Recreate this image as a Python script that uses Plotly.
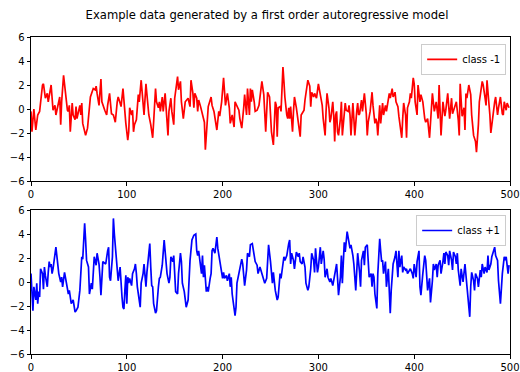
import plotly.graph_objects as go
from plotly.subplots import make_subplots

# ---- class -1 (top panel) ----
t_top = [0,1,3,5,7,9,12,13,15,17,18,21,23,25,26,29,30,31,32,34,36,38,39,40,41,43,44,46,47,48,51,52,53,54,57,59,62,65,67,68,69,71,73,74,77,79,
         80,82,84,86,87,88,90,91,93,94,96,98,99,101,102,103,105,106,107,108,110,112,113,115,117,118,120,122,123,125,127,128,130,131,133,134,135,137,138,140,141,142,143,144,146,147,149,150,151,153,154,156,157,159,161,
         164,166,167,169,170,171,173,174,175,177,179,181,182,184,185,188,189,191,193,194,196,197,199,201,203,205,207,208,210,212,213,215,217,218,220,222,223,225,226,228,229,230,231,233,234,236,238,241,243,245,
         247,249,250,251,253,254,255,256,257,258,260,261,262,263,264,265,267,268,269,270,271,273,274,275,277,278,279,281,282,284,285,286,289,291,292,293,295,296,298,300,302,303,304,305,307,308,309,311,312,313,315,316,317,318,319,320,321,323,324,325,327,328,329,
         331,332,333,334,336,337,338,340,341,342,343,345,346,348,349,350,351,352,354,356,357,359,360,361,362,363,364,365,367,368,370,371,373,374,375,377,378,380,381,383,384,385,387,388,389,391,392,393,395,396,397,399,400,401,403,404,406,407,409,411,412,
         414,416,419,421,423,425,426,428,430,432,433,435,437,439,440,442,444,446,447,448,450,452,453,454,455,457,459,460,462,464,465,467,468,471,472,474,475,476,478,479,480,482,484,485,487,488,490,492,493,494,496,497,499]
v_top = [-0.2,-1.9,0.0,-1.75,-0.5,-0.2,2.0,2.1,0.9,1.3,0.6,2.0,-0.1,0.3,-0.5,0.6,1.0,-1.3,0.6,2.8,1.0,-0.1,-0.2,0.3,-1.9,0.5,-0.5,-0.9,0.2,-0.8,0.3,-0.5,0.5,-1.2,-2.2,-1.6,1.0,1.7,1.6,1.9,1.3,0.3,2.5,0.6,-0.1,-0.5,
         0.3,1.3,-0.4,-0.5,-0.8,-1.1,0.6,1.0,0.5,0.2,1.7,-0.8,-1.2,-2.6,-1.9,0.1,-0.5,-0.1,-1.9,-1.3,-0.9,1.2,0.6,2.4,0.6,-0.5,2.1,0.6,-0.5,-1.3,-2.4,-1.1,1.7,0.6,0.1,0.6,-0.2,1.0,-0.2,1.3,0.3,-1.1,-2.2,-0.2,0.9,-0.2,-1.3,0.9,1.7,2.7,1.6,2.3,0.6,-0.8,0.6,
         0.9,0.2,2.4,1.3,0.1,1.3,0.9,-0.2,0.75,0.2,-0.5,-1.1,-3.4,-0.8,0.2,1.0,0.3,-0.2,-1.1,-1.75,-0.2,-0.6,0.6,2.6,0.3,1.3,0.1,-1.2,-0.5,-1.5,0.6,0.2,-0.1,-0.8,-1.6,0.1,1.2,-0.5,1.7,-0.5,1.7,0.6,1.6,0.6,-0.2,-0.1,0.3,2.3,1.2,-1.9,
         1.4,1.0,-0.5,-1.9,-3.0,-1.1,0.6,0.3,-2.3,0.1,0.2,-0.2,2.1,3.5,2.3,1.0,-0.5,-0.8,0.1,-0.8,0.2,-1.9,-0.2,1.0,0.1,-0.6,-1.3,-2.3,-0.5,-0.2,-0.1,0.75,2.4,1.9,0.2,1.4,1.0,1.3,0.9,2.1,1.0,0.6,0.3,-0.8,-2.2,-0.2,1.3,0.1,-1.1,-0.8,0.6,-0.6,-2.7,-0.5,-0.2,-1.9,-2.2,-0.8,0.6,-2.2,-0.4,0.5,-0.1,
         -0.2,0.3,-0.5,-2.2,0.5,-0.8,-2.2,-0.2,0.5,-0.5,-0.4,0.75,-0.2,1.3,0.5,-0.4,-2.2,-1.1,-0.2,1.4,0.3,-1.2,-0.8,-1.1,-2.2,-1.1,0.3,-1.2,0.5,-0.5,0.3,-0.2,0.9,1.3,0.9,1.7,1.0,1.4,0.6,0.2,-0.6,-1.2,-2.4,-0.8,0.5,-0.5,-2.4,0.1,0.6,1.3,0.9,2.6,2.1,0.6,-0.5,2.0,0.6,1.2,0.6,-0.8,-1.1,
         -0.8,-2.4,1.3,-0.2,0.6,-0.8,2.0,-2.2,0.6,-0.6,-0.1,1.3,-0.8,0.9,-0.4,0.1,0.6,-0.9,-2.2,2.1,-0.6,0.1,-1.75,1.3,0.9,2.0,1.2,-0.5,-2.2,-2.7,-3.6,-1.3,0.6,2.3,2.0,0.9,0.3,2.4,0.6,-0.5,-2.0,-0.5,0.6,1.0,-0.5,0.1,1.0,-0.4,-0.5,0.6,-0.1,0.5,0.1]

# ---- class +1 (bottom panel) ----
t_bot = [0,2,3,5,6,7,8,9,10,12,13,14,15,17,18,19,20,21,22,23,26,27,29,31,32,33,35,37,39,40,42,44,46,47,49,51,52,53,54,56,57,58,60,61,63,64,66,68,69,71,72,73,75,78,
         80,81,82,83,85,86,87,89,90,91,93,94,95,96,97,98,99,100,101,102,103,105,106,108,109,110,111,114,115,117,118,119,120,121,122,124,125,126,127,128,130,131,133,134,135,137,139,140,141,142,144,145,146,148,149,150,151,153,154,156,157,158,160,162,
         164,166,168,170,172,173,174,175,176,178,179,180,181,183,184,185,187,188,189,190,192,194,195,197,199,200,201,202,204,205,207,208,209,210,213,214,215,217,220,221,223,225,226,228,229,231,233,234,236,237,239,244,246,
         247,248,250,252,253,255,257,258,260,261,263,264,265,267,269,270,271,272,274,275,277,279,280,281,283,284,286,287,289,290,292,293,295,296,297,299,300,302,303,305,306,307,309,310,312,313,315,317,319,320,321,323,324,325,327,328,330,
         333,334,336,337,339,340,341,343,344,345,347,348,349,351,352,353,355,356,357,358,359,361,362,364,365,366,367,368,370,371,373,374,375,376,378,380,381,383,384,385,387,388,389,391,392,393,395,396,398,399,400,402,403,405,406,407,409,411,412,
         414,416,417,419,420,421,423,424,425,427,428,430,431,432,433,435,436,437,439,440,441,443,444,445,446,448,449,451,452,453,455,456,458,459,460,462,463,464,466,467,469,470,471,473,474,476,477,478,480,481,484,485,487,488,490,492,494,495,496,498,499]
v_bot = [0.7,-2.4,-0.4,-1.5,-0.1,-1.8,-0.8,-1.25,1.1,0.7,-0.6,1.25,0.55,-0.4,0.8,1.7,1.25,1.5,0.7,1.1,2.9,2.2,0.7,0.0,0.4,-0.4,0.8,-0.1,-1.0,-0.7,-1.8,-1.5,-2.5,-2.4,-2.1,-0.7,1.1,2.1,1.9,4.9,3.5,1.8,1.25,-1.0,-0.1,-0.6,2.1,1.4,2.4,1.5,0.4,-1.1,1.7,1.5,
         2.6,2.9,0.4,0.1,2.1,5.3,4.0,2.1,0.7,0.1,1.25,-0.4,-1.25,-2.1,-2.25,-0.7,0.55,-1.8,0.4,-0.1,0.3,-0.3,0.7,1.1,1.5,0.7,-0.4,-2.1,-0.1,0.7,1.5,0.55,-0.4,0.8,1.7,3.2,1.25,-0.3,-0.4,-1.8,-2.6,-2.4,-0.4,0.3,0.4,1.4,3.5,2.4,1.8,0.7,-0.1,0.4,2.1,1.7,2.2,-0.1,-0.8,-1.0,0.7,2.4,1.7,-0.1,-0.8,-2.1,
         -1.5,1.8,3.5,3.9,4.0,2.6,2.2,2.6,1.8,0.7,2.2,0.4,1.4,-0.8,-0.4,-0.8,0.3,0.7,2.6,2.8,2.4,3.75,2.8,1.8,0.7,0.3,0.8,0.3,0.55,0.1,0.7,-0.4,0.4,-1.0,-2.8,-2.1,-0.1,0.7,1.9,1.5,-0.3,1.0,2.4,2.1,3.1,3.2,2.1,1.7,1.4,0.7,1.25,-0.1,0.3,
         2.4,3.1,1.7,-0.1,0.8,-0.7,-1.5,-1.25,0.7,0.3,1.5,2.1,1.8,2.2,3.2,3.5,1.5,2.4,1.8,1.1,2.5,2.1,2.4,1.7,1.5,2.1,1.25,-0.1,-0.7,-0.4,1.1,2.4,1.8,0.8,2.8,0.8,1.25,2.9,1.5,2.6,1.9,0.4,1.1,0.4,0.0,0.3,-0.3,0.7,1.5,0.3,-1.1,0.4,2.2,-0.1,3.3,2.5,4.2,
         2.8,3.1,2.2,1.5,-0.7,1.25,2.4,0.8,-0.4,1.8,2.6,1.4,2.9,3.1,1.8,0.4,0.7,-0.4,0.7,0.4,-1.0,-2.2,0.7,3.6,2.6,1.7,1.8,0.7,1.7,-0.4,1.1,-1.5,-2.6,-0.7,1.5,2.1,2.6,0.4,2.6,1.25,2.2,0.8,1.25,1.0,1.1,0.7,1.0,1.1,0.7,0.3,1.5,0.4,1.7,2.6,-0.4,-1.1,0.7,2.2,1.8,
         -0.7,0.3,-1.7,0.1,1.5,1.0,1.5,0.4,1.4,1.8,0.7,1.7,2.4,1.5,2.5,2.2,1.4,2.6,1.8,1.0,2.5,2.1,1.5,2.4,1.0,-0.3,1.1,0.0,0.7,1.5,-0.3,-1.25,-2.9,-0.4,0.8,0.1,-0.7,0.7,0.3,-0.4,1.0,0.4,1.5,0.7,1.25,0.8,2.2,1.0,1.5,2.1,2.9,2.2,1.8,0.1,-1.8,0.7,2.1,1.8,2.1,0.7,1.4]

title_text = "Example data generated by a first order autoregressive model"
labels = ["class -1", "class +1"]
x_ticks = [0, 100, 200, 300, 400, 500]
y_ticks = [-6, -4, -2, 0, 2, 4, 6]

FONT = "DejaVu Sans"
fig = make_subplots(rows=2, cols=1, vertical_spacing=29/317)

fig.add_trace(go.Scatter(x=t_top, y=v_top, mode="lines", name=labels[0],
                         line=dict(color="#ff0000", width=1.7), legend="legend"), row=1, col=1)
fig.add_trace(go.Scatter(x=t_bot, y=v_bot, mode="lines", name=labels[1],
                         line=dict(color="#0000ff", width=1.7), legend="legend2"), row=2, col=1)

axis_style = dict(showline=True, linecolor="black", linewidth=1, mirror=True,
                  ticks="outside", ticklen=3.5, tickwidth=1, tickcolor="black",
                  showgrid=False, zeroline=False, automargin=False,
                  ticklabeloverflow="allow",
                  tickfont=dict(family=FONT, size=10, color="black"))

for r in (1, 2):
    fig.update_xaxes(range=[0, 500], tickvals=x_ticks, row=r, col=1, **axis_style)
    fig.update_yaxes(range=[-6, 6], tickvals=y_ticks, row=r, col=1, **axis_style)

legend_style = dict(bgcolor="rgba(255,255,255,0.8)", bordercolor="#cccccc", borderwidth=1,
                    font=dict(family=FONT, size=10, color="black"),
                    xanchor="right", yanchor="top", x=0.992, itemwidth=30,
                    tracegroupgap=0)

fig.update_layout(
    width=520, height=372,
    margin=dict(l=31, r=10, t=37, b=18),
    paper_bgcolor="white", plot_bgcolor="white",
    title=dict(text=title_text, font=dict(family=FONT, size=11.6, color="black"),
               x=0.5135, xref="container", xanchor="center",
               y=1 - 15/372, yref="container", yanchor="middle"),
    showlegend=True,
    legend=dict(y=0.978, **legend_style),
    legend2=dict(y=0.4385, **legend_style),
)

fig.write_html("out.html", config={"displayModeBar": False},
               post_script="document.body.style.margin='0px';")
